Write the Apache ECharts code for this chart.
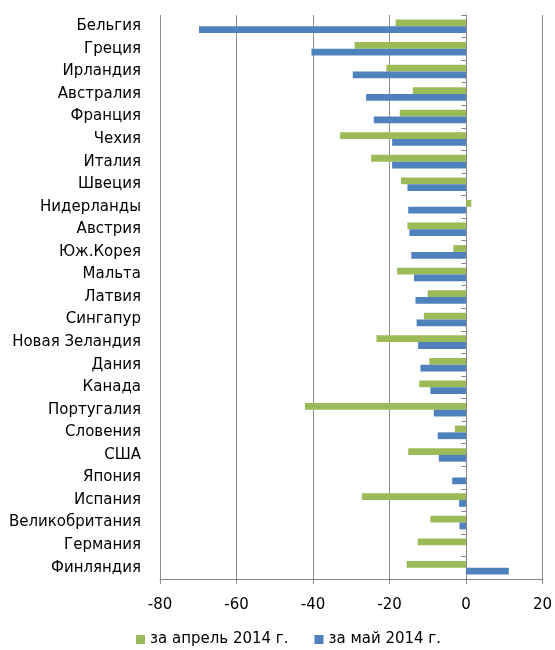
<!DOCTYPE html>
<html><head><meta charset="utf-8">
<script src="https://cdn.jsdelivr.net/npm/echarts@6/dist/echarts.min.js"></script>
<style>html,body{margin:0;padding:0;background:#fff}#c{width:555px;height:650px}</style>
</head><body><div id="c"></div>
<script>
const categories = ['Бельгия','Греция','Ирландия','Австралия','Франция','Чехия','Италия','Швеция','Нидерланды','Австрия','Юж.Корея','Мальта','Латвия','Сингапур','Новая Зеландия','Дания','Канада','Португалия','Словения','США','Япония','Испания','Великобритания','Германия','Финляндия'];
const aprilValues = [-18.4,-29.1,-20.8,-13.9,-17.3,-32.9,-24.8,-17.0,1.4,-15.3,-3.3,-18.0,-10.0,-11.0,-23.4,-9.6,-12.2,-42.1,-2.9,-15.1,0,-27.2,-9.3,-12.6,-15.5];
const mayValues = [-69.8,-40.4,-29.6,-26.1,-24.1,-19.3,-19.3,-15.3,-15.1,-14.8,-14.3,-13.6,-13.2,-12.9,-12.5,-11.9,-9.3,-8.4,-7.4,-7.1,-3.6,-1.8,-1.7,0,11.2];
const seriesNames = ['за апрель 2014 г.','за май 2014 г.'];
const xTicks = {min:-80,max:20,interval:20};

const font = '"DejaVu Sans", sans-serif';
const gridLeft = 160, gridRight = 12;
const plotW = 555 - gridLeft - gridRight;
const zeroOffset = -plotW * (0 - xTicks.min) / (xTicks.max - xTicks.min);
const chart = echarts.init(document.getElementById('c'));
chart.setOption({
  animation:false,
  textStyle:{fontFamily:font},
  grid:{left:gridLeft,right:gridRight,top:15,bottom:71,containLabel:false},
  legend:{bottom:0,padding:3,left:133,itemWidth:9,itemHeight:9,itemGap:26,icon:'rect',
    textStyle:{fontFamily:font,fontSize:15,color:'#000'},data:seriesNames},
  xAxis:{type:'value',min:xTicks.min,max:xTicks.max,interval:xTicks.interval,
    axisLine:{show:true,onZero:false,lineStyle:{color:'#868686'}},
    axisTick:{show:true,length:5,lineStyle:{color:'#868686'}},
    axisLabel:{fontSize:15,color:'#000',margin:19,fontFamily:font},
    splitLine:{show:true,lineStyle:{color:'#8c8c8c',width:1}}},
  yAxis:[
    {type:'category',data:categories,inverse:true,position:'left',
     axisLine:{show:false},axisTick:{show:false},
     axisLabel:{fontSize:15,color:'#000',margin:19,fontFamily:font}},
    {type:'category',data:categories,inverse:true,position:'left',offset:zeroOffset,
     axisLine:{show:true,onZero:false,lineStyle:{color:'#868686'}},
     axisTick:{show:true,length:5,lineStyle:{color:'#868686'}},
     axisLabel:{show:false},splitLine:{show:false}}
  ],
  series:[
    {name:seriesNames[0],type:'bar',data:aprilValues,barGap:'0%',barCategoryGap:'40%',
     itemStyle:{color:'#9BBB59'}},
    {name:seriesNames[1],type:'bar',data:mayValues,barGap:'0%',barCategoryGap:'40%',
     itemStyle:{color:'#4F81BD'}}
  ]
});
</script></body></html>
